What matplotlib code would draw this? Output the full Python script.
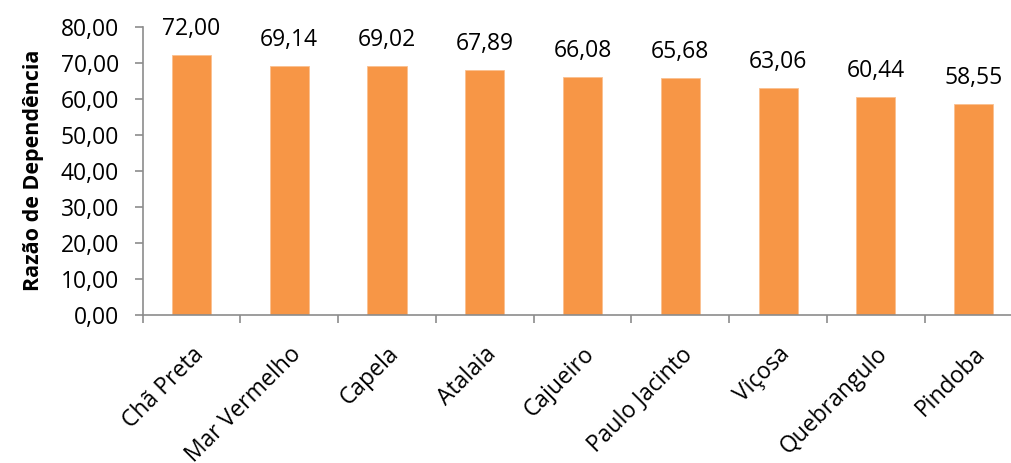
import matplotlib
matplotlib.use("Agg")
import matplotlib.pyplot as plt
import numpy as np

municipios = ["Chã Preta", "Mar Vermelho", "Capela", "Atalaia", "Cajueiro",
              "Paulo Jacinto", "Viçosa", "Quebrangulo", "Pindoba"]
razao = [72.00, 69.14, 69.02, 67.89, 66.08, 65.68, 63.06, 60.44, 58.55]
y_ticks = [0, 10, 20, 30, 40, 50, 60, 70, 80]

plt.rcParams["font.family"] = ["Open Sans", "DejaVu Sans"]

fig = plt.figure(figsize=(10.11, 4.63), dpi=100)
ax = fig.add_axes([0.141, 0.3207, 0.8704, 0.622])

x = np.arange(len(municipios))
bar_color = "#F79646"
ax.bar(x, razao, width=0.4, color=bar_color, edgecolor="#FAC090", linewidth=0.6)

def fmt(v):
    return f"{v:.2f}".replace(".", ",")

for xi, v in zip(x, razao):
    ax.annotate(fmt(v), (xi, v), xytext=(0, 10), textcoords="offset points",
                ha="center", va="bottom", fontsize=16.5, color="black")

ax.set_xlim(-0.5, len(municipios) - 0.5)
ax.set_ylim(0, 80)
ax.set_yticks(y_ticks)
ax.set_yticklabels([fmt(v) for v in y_ticks], fontsize=16.5)

ax.set_xticks(x)
ax.set_xticklabels(municipios, rotation=45, ha="right", rotation_mode="anchor",
                   fontsize=16.5)
ax.tick_params(axis="x", which="major", length=0, pad=20)
ax.set_xticks(np.arange(-0.5, len(municipios), 1.0), minor=True)
ax.tick_params(axis="x", which="minor", length=6, width=1.2, color="#8C8C8C",
               direction="out")
ax.tick_params(axis="y", length=6, width=1.2, color="#8C8C8C", direction="out",
               pad=11)

for side in ["top", "right"]:
    ax.spines[side].set_visible(False)
for side in ["left", "bottom"]:
    ax.spines[side].set_color("#8C8C8C")
    ax.spines[side].set_linewidth(1.2)

ax.set_ylabel("Razão de Dependência", fontsize=15.5, fontweight="bold", labelpad=12)

fig.savefig("out.png", dpi=100)
